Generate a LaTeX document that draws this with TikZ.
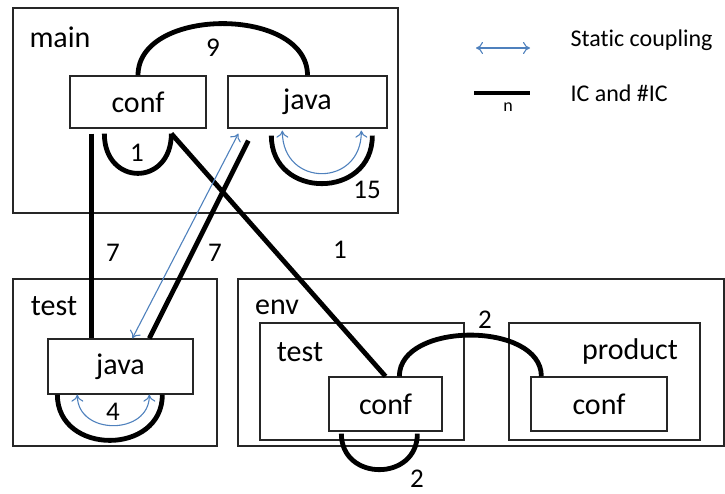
\documentclass[tikz,border=0pt]{standalone}
\usepackage{fontspec}
\setmainfont[Ligatures=NoCommon]{Carlito}
\usepackage{tikz}
\usepackage{xcolor}
\usetikzlibrary{arrows.meta, positioning, calc}

\definecolor{couplingblue}{HTML}{4F81BD}

\begin{document}
\begin{tikzpicture}[x=1pt, y=1pt,
    module/.style={draw=black!85, line width=1.3pt},
    file/.style={draw=black!85, line width=1.3pt, fill=white, inner sep=0pt,
        font=\fontsize{30}{32}\selectfont},
    ic/.style={line width=4.8pt},
    coupling/.style={couplingblue, line width=1.1pt,
        {To[length=7pt,width=12pt]}-{To[length=7pt,width=12pt]}},
    num/.style={font=\fontsize{27}{29}\selectfont, inner sep=1pt},
    title/.style={font=\fontsize{30}{32}\selectfont},
    legend/.style={font=\fontsize{24}{26}\selectfont, anchor=base west}]
\useasboundingbox (0,0) rectangle (725,-494);

% Module boxes
\draw[module] (13,-8) rectangle (398,-213);
\draw[module] (13,-279) rectangle (217,-446);
\draw[module] (238,-279) rectangle (724,-446);
\draw[module] (260,-323) rectangle (464,-440);
\draw[module] (509,-323) rectangle (700,-440);

\node[title] (tmain) at (60,-37) {main};
\node[title] (ttest) at (54,-306) {test};
\node[title] (tenv) at (277,-307) {env};
\node[title] (tenvtest) at (300,-352) {test};
\node[title] (tproduct) at (630,-352) {product};

% Files
\node[file, minimum width=136pt, minimum height=52pt] (mconf) at (138,-102) {conf};
\node[file, minimum width=159pt, minimum height=52pt] (mjava) at (307.5,-102) {java};
\node[file, minimum width=145pt, minimum height=55pt] (tjava) at (120.5,-366.5) {java};
\node[file, minimum width=113pt, minimum height=54pt] (econf) at (385.5,-404) {conf};
\node[file, minimum width=136pt, minimum height=54pt] (pconf) at (599,-404) {conf};

% Interaction coupling
\draw[ic] (mconf.north) .. controls +(0,69) and +(0,69) .. (mjava.north);
\draw[ic] ([xshift=35pt,yshift=-5pt]mconf.south west)
    .. controls +(0,-53) and +(0,-53) .. ([xshift=102pt,yshift=-5pt]mconf.south west);
\draw[ic] ([xshift=22pt,yshift=-5pt]mconf.south west) -- ([xshift=44pt]tjava.north west);
\draw[ic] ([xshift=102pt,yshift=-5pt]mconf.south west) -- (econf.north);
\draw[ic] ([xshift=21pt,yshift=-12pt]mjava.south west) -- ([xshift=102pt]tjava.north west);
\draw[ic] ([xshift=44pt,yshift=-7pt]mjava.south west)
    .. controls +(0,-64) and +(0,-64) .. ([xshift=145pt,yshift=-7pt]mjava.south west);
\draw[ic] ([xshift=10pt]tjava.south west)
    .. controls +(0,-61) and +(0,-61) .. ([xshift=115pt]tjava.south west);
\draw[ic] ([xshift=71pt]econf.north west)
    .. controls +(0,55) and +(0,55) .. ([xshift=11pt]pconf.north west);
\draw[ic] ([xshift=13pt,yshift=-2pt]econf.south west)
    .. controls +(0,-48) and +(0,-48) .. ([xshift=89pt,yshift=-2pt]econf.south west);

% Static coupling
\draw[coupling] ([xshift=85pt]tjava.north west) -- ([xshift=11pt,yshift=-5pt]mjava.south west);
\draw[coupling] ([xshift=55pt,yshift=-2pt]mjava.south west)
    .. controls +(0,-57) and +(0,-57) .. ([xshift=134pt,yshift=-2pt]mjava.south west);
\draw[coupling] ([xshift=30pt]tjava.south west)
    .. controls +(0,-41) and +(0,-41) .. ([xshift=102pt]tjava.south west);

% Counts
\foreach \x/\y/\n/\name in {213/-48/9/c9, 137/-153/1/c1, 367/-190/15/c15,
    113/-253/7/c7a, 215/-253/7/c7b, 340/-250/1/c1b, 113/-412/4/c4,
    485/-320/2/c2a, 417/-479/2/c2b} {
    \node[num] (\name) at (\x,\y) {\n};
}

% Legend
\coordinate (sa) at (476,-48);
\coordinate (sb) at (530,-48);
\draw[coupling] (sa) -- (sb);
\coordinate (ia) at (474,-93);
\coordinate (ib) at (530,-93);
\draw[ic] (ia) -- (ib);
\node[font=\fontsize{18}{19}\selectfont] (nlabel) at (508,-107) {n};
\node[legend] (lstatic) at (567,-47) {Static coupling};
\node[legend] (lic) at (567,-102) {IC and \#IC};
\end{tikzpicture}
\end{document}
